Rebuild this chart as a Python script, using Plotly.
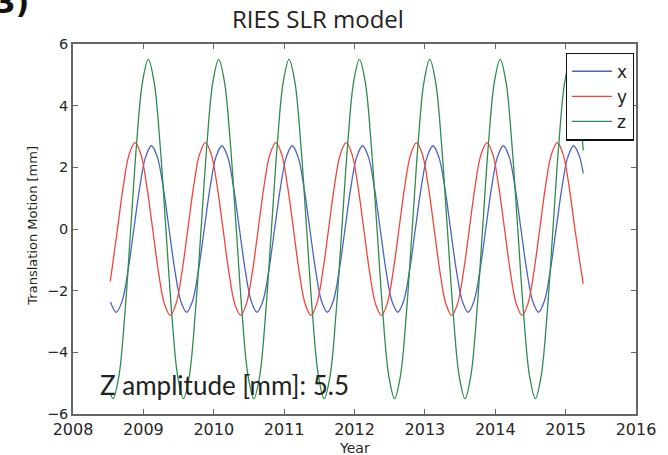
import plotly.graph_objects as go

# decimal-year sample times and values (mm), one list pair per component
x_years = [
    2008.532, 2008.615, 2008.698, 2008.782, 2008.865, 2008.948,
    2009.032, 2009.115, 2009.198, 2009.282, 2009.365, 2009.448, 2009.532, 2009.615, 2009.698, 2009.782, 2009.865, 2009.948,
    2010.032, 2010.115, 2010.198, 2010.282, 2010.365, 2010.448, 2010.532, 2010.615, 2010.698, 2010.782, 2010.865, 2010.948,
    2011.032, 2011.115, 2011.198, 2011.282, 2011.365, 2011.448, 2011.532, 2011.615, 2011.698, 2011.782, 2011.865, 2011.948,
    2012.032, 2012.115, 2012.198, 2012.282, 2012.365, 2012.448, 2012.532, 2012.615, 2012.698, 2012.782, 2012.865, 2012.948,
    2013.032, 2013.115, 2013.198, 2013.282, 2013.365, 2013.448, 2013.532, 2013.615, 2013.698, 2013.782, 2013.865, 2013.948,
    2014.032, 2014.115, 2014.198, 2014.282, 2014.365, 2014.448, 2014.532, 2014.615, 2014.698, 2014.782, 2014.865, 2014.948,
    2015.032, 2015.115, 2015.198, 2015.250,
]
x_mm = [
    -2.37, -2.70, -2.34, -1.35, 0.00, 1.35,
    2.34, 2.70, 2.34, 1.35, 0.00, -1.35, -2.34, -2.70, -2.34, -1.35, 0.00, 1.35,
    2.34, 2.70, 2.34, 1.35, 0.00, -1.35, -2.34, -2.70, -2.34, -1.35, 0.00, 1.35,
    2.34, 2.70, 2.34, 1.35, 0.00, -1.35, -2.34, -2.70, -2.34, -1.35, 0.00, 1.35,
    2.34, 2.70, 2.34, 1.35, 0.00, -1.35, -2.34, -2.70, -2.34, -1.35, 0.00, 1.35,
    2.34, 2.70, 2.34, 1.35, 0.00, -1.35, -2.34, -2.70, -2.34, -1.35, 0.00, 1.35,
    2.34, 2.70, 2.34, 1.35, 0.00, -1.35, -2.34, -2.70, -2.34, -1.35, 0.00, 1.35,
    2.34, 2.70, 2.34, 1.80,
]

y_years = [
    2008.530, 2008.632, 2008.715, 2008.798, 2008.882, 2008.965,
    2009.048, 2009.132, 2009.215, 2009.298, 2009.382, 2009.465, 2009.548, 2009.632, 2009.715, 2009.798, 2009.882, 2009.965,
    2010.048, 2010.132, 2010.215, 2010.298, 2010.382, 2010.465, 2010.548, 2010.632, 2010.715, 2010.798, 2010.882, 2010.965,
    2011.048, 2011.132, 2011.215, 2011.298, 2011.382, 2011.465, 2011.548, 2011.632, 2011.715, 2011.798, 2011.882, 2011.965,
    2012.048, 2012.132, 2012.215, 2012.298, 2012.382, 2012.465, 2012.548, 2012.632, 2012.715, 2012.798, 2012.882, 2012.965,
    2013.048, 2013.132, 2013.215, 2013.298, 2013.382, 2013.465, 2013.548, 2013.632, 2013.715, 2013.798, 2013.882, 2013.965,
    2014.048, 2014.132, 2014.215, 2014.298, 2014.382, 2014.465, 2014.548, 2014.632, 2014.715, 2014.798, 2014.882, 2014.965,
    2015.048, 2015.132, 2015.250,
]
y_mm = [
    -1.70, 0.00, 1.40, 2.42, 2.80, 2.42,
    1.40, 0.00, -1.40, -2.42, -2.80, -2.42, -1.40, 0.00, 1.40, 2.42, 2.80, 2.42,
    1.40, 0.00, -1.40, -2.42, -2.80, -2.42, -1.40, 0.00, 1.40, 2.42, 2.80, 2.42,
    1.40, 0.00, -1.40, -2.42, -2.80, -2.42, -1.40, 0.00, 1.40, 2.42, 2.80, 2.42,
    1.40, 0.00, -1.40, -2.42, -2.80, -2.42, -1.40, 0.00, 1.40, 2.42, 2.80, 2.42,
    1.40, 0.00, -1.40, -2.42, -2.80, -2.42, -1.40, 0.00, 1.40, 2.42, 2.80, 2.42,
    1.40, 0.00, -1.40, -2.42, -2.80, -2.42, -1.40, 0.00, 1.40, 2.42, 2.80, 2.42,
    1.40, 0.00, -1.78,
]

z_years = [
    2008.530, 2008.570, 2008.653, 2008.737, 2008.820, 2008.903, 2008.987,
    2009.070, 2009.153, 2009.237, 2009.320, 2009.403, 2009.487, 2009.570, 2009.653, 2009.737, 2009.820, 2009.903, 2009.987,
    2010.070, 2010.153, 2010.237, 2010.320, 2010.403, 2010.487, 2010.570, 2010.653, 2010.737, 2010.820, 2010.903, 2010.987,
    2011.070, 2011.153, 2011.237, 2011.320, 2011.403, 2011.487, 2011.570, 2011.653, 2011.737, 2011.820, 2011.903, 2011.987,
    2012.070, 2012.153, 2012.237, 2012.320, 2012.403, 2012.487, 2012.570, 2012.653, 2012.737, 2012.820, 2012.903, 2012.987,
    2013.070, 2013.153, 2013.237, 2013.320, 2013.403, 2013.487, 2013.570, 2013.653, 2013.737, 2013.820, 2013.903, 2013.987,
    2014.070, 2014.153, 2014.237, 2014.320, 2014.403, 2014.487, 2014.570, 2014.653, 2014.737, 2014.820, 2014.903, 2014.987,
    2015.070, 2015.153, 2015.250,
]
z_mm = [
    -5.33, -5.50, -4.76, -2.75, 0.00, 2.75, 4.76,
    5.50, 4.76, 2.75, 0.00, -2.75, -4.76, -5.50, -4.76, -2.75, 0.00, 2.75, 4.76,
    5.50, 4.76, 2.75, 0.00, -2.75, -4.76, -5.50, -4.76, -2.75, 0.00, 2.75, 4.76,
    5.50, 4.76, 2.75, 0.00, -2.75, -4.76, -5.50, -4.76, -2.75, 0.00, 2.75, 4.76,
    5.50, 4.76, 2.75, 0.00, -2.75, -4.76, -5.50, -4.76, -2.75, 0.00, 2.75, 4.76,
    5.50, 4.76, 2.75, 0.00, -2.75, -4.76, -5.50, -4.76, -2.75, 0.00, 2.75, 4.76,
    5.50, 4.76, 2.75, 0.00, -2.75, -4.76, -5.50, -4.76, -2.75, 0.00, 2.75, 4.76,
    5.50, 4.76, 2.55,
]

series_names = ["x", "y", "z"]
series_colors = ["#4a63c4", "#f2453a", "#2f8c4c"]
x_ticks = [2008, 2009, 2010, 2011, 2012, 2013, 2014, 2015, 2016]
y_ticks = [-6, -4, -2, 0, 2, 4, 6]
y_tick_text = ["\u22126", "\u22124", "\u22122", "0", "2", "4", "6"]

fig = go.Figure()
for name, xs, ys, col in zip(series_names, [x_years, y_years, z_years], [x_mm, y_mm, z_mm], series_colors):
    fig.add_trace(go.Scatter(
        x=xs, y=ys, mode="lines", name=name,
        line=dict(color=col, width=1.3, shape="spline", smoothing=1.0),
    ))

axis_common = dict(
    showgrid=False, zeroline=False, showline=True, linecolor="#666666", linewidth=1.5,
    mirror="ticks", ticks="inside", ticklen=5, tickwidth=1.2, tickcolor="#666666",
)

fig.update_layout(
    width=668, height=455,
    margin=dict(l=73, r=24, t=44, b=41),
    paper_bgcolor="white", plot_bgcolor="white",
    showlegend=True,
    legend=dict(
        x=0.996, y=0.977, xanchor="right", yanchor="top",
        bgcolor="white", bordercolor="#111111", borderwidth=1.2,
        font=dict(family="DejaVu Sans", size=17, color="#222222"),
        tracegroupgap=0, itemwidth=40,
    ),
    xaxis=dict(range=[2008, 2016], tickvals=x_ticks, ticktext=[str(v) for v in x_ticks],
               tickfont=dict(family="DejaVu Sans", size=16, color="#262626"), **axis_common),
    yaxis=dict(range=[-6, 6], tickvals=y_ticks, ticktext=y_tick_text,
               tickfont=dict(family="DejaVu Sans", size=14.5, color="#262626"), **axis_common),
    annotations=[
        dict(text="RIES SLR model", xref="paper", yref="paper", x=0.436, y=1.0,
             yshift=7, xanchor="center", yanchor="bottom", showarrow=False,
             font=dict(family="Open Sans", size=24, color="#222222")),
        dict(text="Translation Motion [mm]", xref="paper", yref="paper", x=0, y=0.509,
             xshift=-40, xanchor="center", yanchor="middle", textangle=-90, showarrow=False,
             font=dict(family="DejaVu Sans", size=13, color="#262626")),
        dict(text="Year", xref="paper", yref="paper", x=0.5, y=0,
             yshift=-24, xanchor="center", yanchor="top", showarrow=False,
             font=dict(family="DejaVu Sans", size=14, color="#262626")),
        dict(text="Z amplitude [mm]: 5.5", xref="paper", yref="paper", x=0.044, y=0.031,
             xanchor="left", yanchor="bottom", showarrow=False,
             font=dict(family="Lato", size=26, color="#222222")),
        dict(text="<b>(3)</b>", xref="paper", yref="paper", x=0, y=1,
             xshift=-42, yshift=22, xanchor="right", yanchor="bottom", showarrow=False,
             font=dict(family="DejaVu Sans", size=30, color="#111111")),
    ],
)

fig.write_html("out.html")
